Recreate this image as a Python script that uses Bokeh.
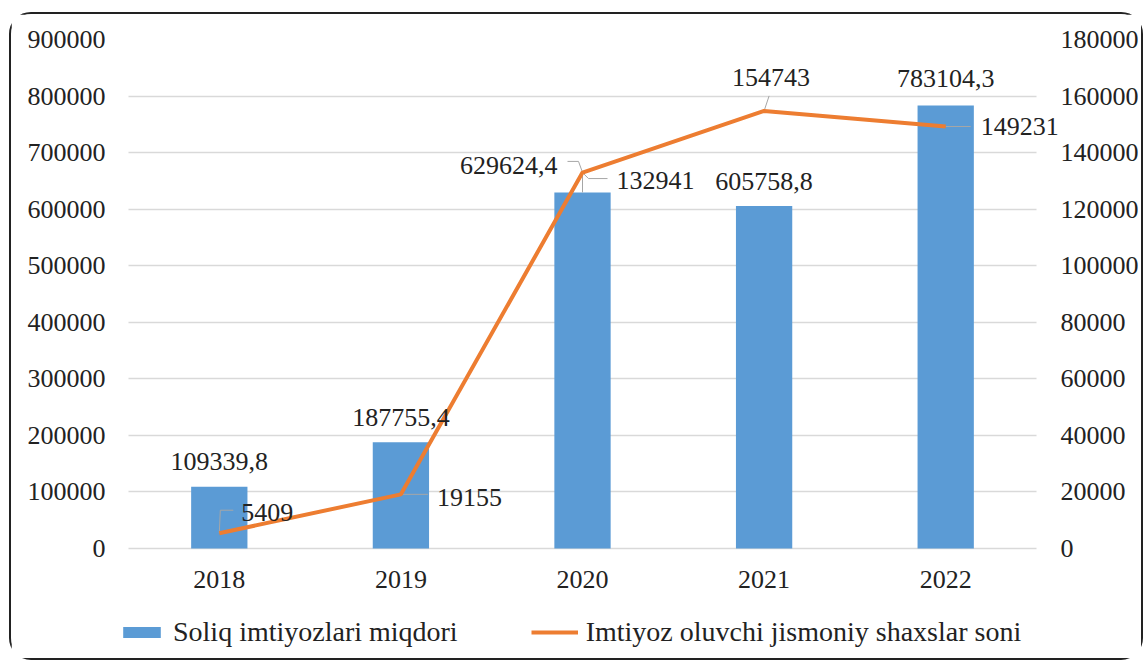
from bokeh.plotting import figure
from bokeh.models import (ColumnDataSource, Range1d, LinearAxis, Legend, LegendItem,
                          FixedTicker, NumeralTickFormatter, LabelSet)
from bokeh.embed import file_html
from bokeh.resources import INLINE

years = [2018, 2019, 2020, 2021, 2022]
year_labels = ["2018", "2019", "2020", "2021", "2022"]
amounts = [109339.8, 187755.4, 629624.4, 605758.8, 783104.3]
amount_labels = ["109339,8", "187755,4", "629624,4", "605758,8", "783104,3"]
persons = [5409, 19155, 132941, 154743, 149231]
person_labels = ["5409", "19155", "132941", "154743", "149231"]
left_ticks = [0, 100000, 200000, 300000, 400000, 500000, 600000, 700000, 800000, 900000]
right_ticks = [0, 20000, 40000, 60000, 80000, 100000, 120000, 140000, 160000, 180000]

FONT = "Liberation Serif"
FS = "26px"
BLUE = "#5B9BD5"
ORANGE = "#ED7D31"
GRID = "#d9d9d9"
TXT = "#222222"
LEAD = "#a6a6a6"

CAT_PX = 181.6             # px per category
LEFT_PAD = 18              # px of frame left of the first category slot
FW = 948                   # frame width px
FH_DATA = 509              # px used by the value range
FH = 615                   # full frame height px (room for year labels + legend)
X0 = years[0] - 0.5 - LEFT_PAD / CAT_PX
X1 = X0 + FW / CAT_PX
YL, YR = 900000, 180000
YL0 = -YL * (FH - FH_DATA) / FH_DATA
YR0 = -YR * (FH - FH_DATA) / FH_DATA

p = figure(x_range=Range1d(X0, X1), y_range=Range1d(YL0, YL),
           frame_width=FW, frame_height=FH,
           output_backend="svg", toolbar_location=None,
           min_border_left=99, min_border_right=81, min_border_top=25, min_border_bottom=4)
p.styles = {"border": "2px solid #222", "border-radius": "22px",
            "margin-left": "9px", "margin-top": "12px"}
p.outline_line_color = None
p.extra_y_ranges = {"right": Range1d(YR0, YR)}

src = ColumnDataSource(dict(x=years, amt=amounts, per=persons))

bars = p.vbar(x="x", top="amt", width=0.31, source=src, color=BLUE, line_color=None)

# leader lines (pixel offsets relative to the anchor point, y up)
yl_px = FH_DATA / YL
yr_px = FH_DATA / YR
line_leaders = {0: [(0, 0), (1, 23), (14, 23)], 1: [(0, 0), (27, 0)],
                2: [(0, 0), (6, -6), (25, -6)], 3: [(0, 0), (5, 15)], 4: [(0, 0), (25, 0)]}
bar_leaders = {2: [(0, 0), (0, 20), (-4, 31), (-15, 31)]}
lx, ly = [], []
for i, pts in line_leaders.items():
    lx.append([years[i] + dx / CAT_PX for dx, dy in pts])
    ly.append([persons[i] + dy / yr_px for dx, dy in pts])
p.multi_line(xs=lx, ys=ly, y_range_name="right", line_color=LEAD, line_width=1)
bx, by = [], []
for i, pts in bar_leaders.items():
    bx.append([years[i] + dx / CAT_PX for dx, dy in pts])
    by.append([amounts[i] + dy / yl_px for dx, dy in pts])
p.multi_line(xs=bx, ys=by, line_color=LEAD, line_width=1)

line = p.line(x="x", y="per", source=src, y_range_name="right", line_color=ORANGE, line_width=4)

# bar value labels
bsrc = ColumnDataSource(dict(x=years, y=amounts, t=amount_labels,
                             xo=[0, 0, -25, 0, 0], yo=[25, 25, 27, 24, 27],
                             al=["center", "center", "right", "center", "center"]))
p.add_layout(LabelSet(x="x", y="y", text="t", source=bsrc, x_offset="xo", y_offset="yo",
                      text_align="al", text_baseline="middle", text_font=FONT,
                      text_font_size=FS, text_color=TXT))

# line value labels
lsrc = ColumnDataSource(dict(x=years, y=persons, t=person_labels,
                             xo=[22, 36, 34, 7, 35], yo=[21, -3, -8, 33, 0],
                             al=["left", "left", "left", "center", "left"]))
p.add_layout(LabelSet(x="x", y="y", text="t", source=lsrc, x_offset="xo", y_offset="yo",
                      text_align="al", text_baseline="middle", text_font=FONT,
                      text_font_size=FS, text_color=TXT, y_range_name="right"))

# category (year) labels under the bars
ysrc = ColumnDataSource(dict(x=years, y=[0] * len(years), t=year_labels))
p.add_layout(LabelSet(x="x", y="y", text="t", source=ysrc, y_offset=-31,
                      text_align="center", text_baseline="middle", text_font=FONT,
                      text_font_size=FS, text_color=TXT))
p.xaxis.visible = False

# value axes
p.yaxis[0].ticker = FixedTicker(ticks=left_ticks)
p.yaxis[0].formatter = NumeralTickFormatter(format="0")
ra = LinearAxis(y_range_name="right", ticker=FixedTicker(ticks=right_ticks),
                formatter=NumeralTickFormatter(format="0"))
p.add_layout(ra, "right")

for ax in [p.yaxis[0], ra]:
    ax.axis_line_color = None
    ax.major_tick_line_color = None
    ax.minor_tick_line_color = None
    ax.major_tick_out = 0
    ax.major_tick_in = 0
    ax.minor_tick_out = 0
    ax.minor_tick_in = 0
    ax.major_label_text_font = FONT
    ax.major_label_text_font_size = FS
    ax.major_label_text_color = TXT
p.yaxis[0].major_label_standoff = 5
ra.major_label_standoff = 2

p.ygrid.grid_line_color = GRID
p.ygrid.grid_line_width = 1.5
p.ygrid.ticker = FixedTicker(ticks=left_ticks)
p.ygrid.cross_bounds = (years[0] - 0.5, years[-1] + 0.5)
p.xgrid.grid_line_color = None

legend = Legend(items=[LegendItem(label="Soliq imtiyozlari miqdori", renderers=[bars]),
                       LegendItem(label="Imtiyoz oluvchi jismoniy shaxslar soni", renderers=[line])],
                orientation="horizontal", location=(8, 6))
legend.label_text_font = FONT
legend.label_text_font_size = "28px"
legend.label_text_color = TXT
legend.glyph_width = 47
legend.glyph_height = 14
legend.label_standoff = 8
legend.spacing = 73
legend.padding = 0
legend.margin = 0
legend.border_line_color = None
legend.background_fill_alpha = 0
p.add_layout(legend, "center")

open("out.html", "w").write(file_html(p, INLINE))
